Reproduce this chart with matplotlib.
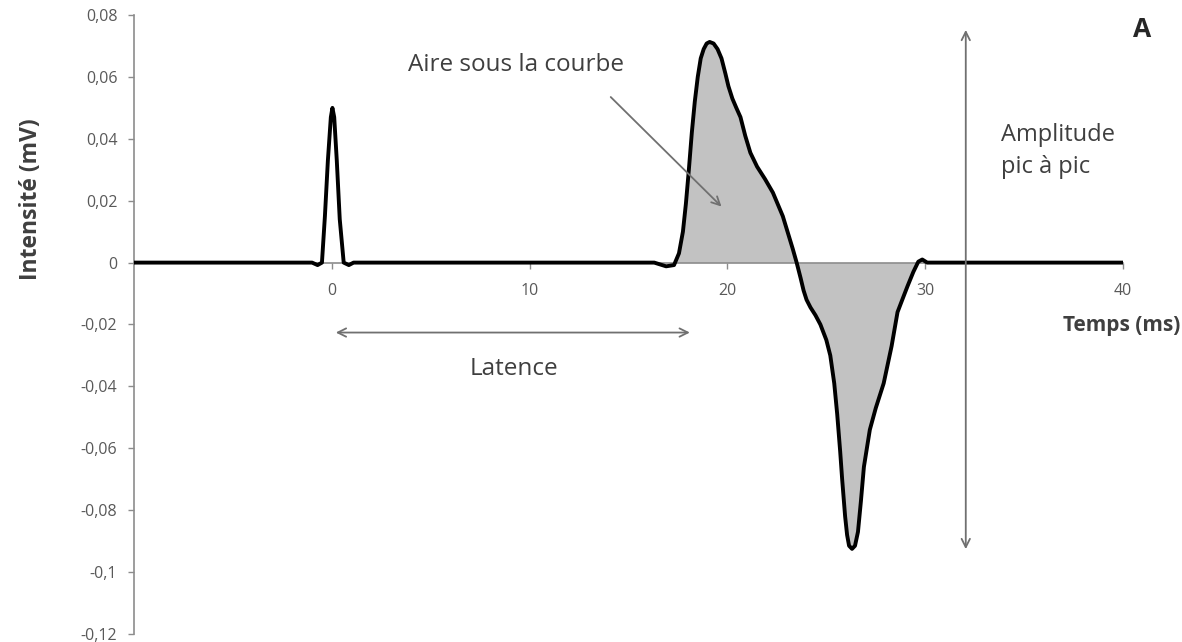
import matplotlib
matplotlib.use("Agg")
import matplotlib.pyplot as plt

plt.rcParams['font.family'] = ['Open Sans', 'DejaVu Sans']

# Stimulus artefact and evoked response (time in ms, intensity in mV)
time_ms = [-10, -1.0, -0.72, -0.5, -0.35, -0.2, -0.05, 0.03, 0.12, 0.25, 0.4, 0.6,
           0.86, 1.1,
           16.3, 16.9, 17.3, 17.55, 17.75, 17.9, 18.05, 18.2, 18.35, 18.5, 18.65,
           18.8, 18.95, 19.1, 19.3, 19.5, 19.7, 19.9, 20.05, 20.25, 20.45, 20.66,
           20.9, 21.16, 21.5, 21.9, 22.3, 22.8, 23.3, 23.5, 23.7, 23.85, 24.0,
           24.2, 24.45, 24.7, 25.0, 25.2, 25.4, 25.55, 25.7, 25.8, 25.95, 26.05,
           26.15, 26.3, 26.45, 26.6, 26.75, 26.9, 27.2, 27.5, 27.9, 28.3, 28.6,
           28.9, 29.1, 29.4, 29.65, 29.85, 30.1, 40]
intensity_mv = [0, 0, -0.0008, 0, 0.015, 0.033, 0.047, 0.05, 0.047, 0.033, 0.014,
                0, -0.0008, 0,
                0, -0.0012, -0.0008, 0.003, 0.010, 0.019, 0.030, 0.042, 0.052,
                0.060, 0.066, 0.069, 0.0708, 0.0713, 0.0708, 0.069, 0.066, 0.061,
                0.057, 0.053, 0.050, 0.047, 0.041, 0.0355, 0.031, 0.027, 0.0226,
                0.015, 0.0045, 0.0, -0.005, -0.009, -0.012, -0.0145, -0.017,
                -0.020, -0.025, -0.030, -0.039, -0.049, -0.061, -0.070, -0.082,
                -0.088, -0.0915, -0.0925, -0.0915, -0.087, -0.077, -0.066, -0.054,
                -0.047, -0.039, -0.027, -0.016, -0.011, -0.0077, -0.003, 0.0003,
                0.001, 0, 0]

x_ticks = [0, 10, 20, 30, 40]
y_ticks = [0.08, 0.06, 0.04, 0.02, 0, -0.02, -0.04, -0.06, -0.08, -0.1, -0.12]
y_tick_labels = ["0,08", "0,06", "0,04", "0,02", "0", "-0,02", "-0,04",
                 "-0,06", "-0,08", "-0,1", "-0,12"]

# Response window shaded as the area under the curve
area_start, area_end = 17.5, 29.7

fig = plt.figure(figsize=(11.82, 6.42), dpi=100)
ax = fig.add_axes([0.1134, 0.0125, 0.8367, 0.9641])

ax.fill_between(time_ms, intensity_mv, 0,
                where=[area_start <= t <= area_end for t in time_ms],
                interpolate=True, color='#c2c2c2', linewidth=0, zorder=1)
ax.plot(time_ms, intensity_mv, color='black', linewidth=2.8,
        solid_joinstyle='round', solid_capstyle='round', zorder=3)

ax.set_xlim(-10, 40)
ax.set_ylim(-0.12, 0.08)

ax.spines['top'].set_visible(False)
ax.spines['right'].set_visible(False)
ax.spines['bottom'].set_position(('data', 0))
for sp in ('left', 'bottom'):
    ax.spines[sp].set_color('#8c8c8c')
    ax.spines[sp].set_linewidth(1.2)
ax.spines['bottom'].set_zorder(2)

ax.set_xticks(x_ticks)
ax.set_xticklabels([str(v) for v in x_ticks])
ax.set_yticks(y_ticks)
ax.set_yticklabels(y_tick_labels)
ax.tick_params(axis='both', colors='#8c8c8c', labelcolor='#595959',
               labelsize=11.5, length=4, width=1.0)
ax.tick_params(axis='x', pad=11)
ax.tick_params(axis='y', pad=8)

text_col = '#3f3f3f'
fig.text(0.026, 0.69, "Intensité (mV)", rotation=90, ha='center', va='center',
         fontsize=16.5, fontweight='bold', color=text_col)
fig.text(0.9985, 0.493, "Temps (ms)", ha='right', va='center',
         fontsize=15, fontweight='bold', color=text_col)
ax.text(40.95, 0.0753, "A", ha='center', va='center',
        fontsize=19, fontweight='bold', color='#262626')

arrow_col = '#707070'

# Latency double arrow
ax.annotate("", xy=(0.2, -0.0226), xytext=(18.1, -0.0226),
            arrowprops=dict(arrowstyle='<->', color=arrow_col, lw=1.3,
                            mutation_scale=15, shrinkA=0, shrinkB=0))
ax.text(9.2, -0.0345, "Latence", ha='center', va='center',
        fontsize=17.5, color=text_col)

# Area annotation
ax.annotate("", xy=(19.7, 0.0181), xytext=(14.1, 0.0535),
            arrowprops=dict(arrowstyle='->', color=arrow_col, lw=1.3,
                            mutation_scale=15, shrinkA=0, shrinkB=0))
ax.text(9.3, 0.0640, "Aire sous la courbe", ha='center', va='center',
        fontsize=17.5, color=text_col)

# Peak-to-peak amplitude double arrow
ax.annotate("", xy=(32.05, 0.0752), xytext=(32.05, -0.0926),
            arrowprops=dict(arrowstyle='<->', color=arrow_col, lw=1.3,
                            mutation_scale=15, shrinkA=0, shrinkB=0))
ax.text(33.85, 0.0362, "Amplitude\npic à pic", ha='left', va='center',
        fontsize=17, color=text_col, linespacing=1.45)

fig.savefig("out.png", dpi=100)
